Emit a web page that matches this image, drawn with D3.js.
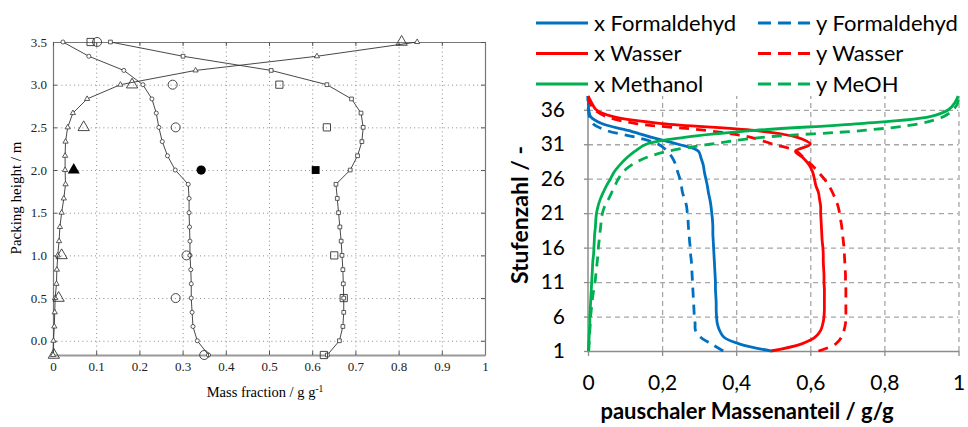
<!DOCTYPE html>
<html>
<head>
<meta charset="utf-8">
<script src="https://cdn.jsdelivr.net/npm/d3@7"></script>
<style>
body { margin: 0; background: #fff; }
</style>
</head>
<body>
<script>
// ---- left panel: packing column (simulated curves + experiments) ----
var heights = [3.5, 3.333, 3.167, 3.0, 2.833, 2.667, 2.5, 2.333, 2.167, 2.0, 1.833, 1.667, 1.5, 1.333, 1.167, 1.0, 0.833, 0.667, 0.5, 0.333, 0.167, 0, -0.167]
var simMethanol = [0.843, 0.611, 0.330, 0.156, 0.079, 0.046, 0.034, 0.029, 0.028, 0.028, 0.029, 0.025, 0.020, 0.016, 0.014, 0.011, 0.009, 0.008, 0.005, 0.004, 0.003, 0.001, 0.0]
var simFormaldehyde = [0.023, 0.083, 0.164, 0.208, 0.229, 0.239, 0.245, 0.253, 0.265, 0.283, 0.313, 0.315, 0.315, 0.316, 0.317, 0.317, 0.319, 0.320, 0.320, 0.322, 0.324, 0.334, 0.360]
var simWater = [0.133, 0.301, 0.505, 0.634, 0.691, 0.713, 0.718, 0.715, 0.705, 0.688, 0.655, 0.658, 0.661, 0.664, 0.667, 0.669, 0.671, 0.672, 0.673, 0.673, 0.671, 0.663, 0.635]

var expHeights = [3.5, 3.0, 2.5, 1.0, 0.5, -0.167]
var expMethanol = [0.807, 0.183, 0.071, 0.020, 0.013, 0.002]
var expFormaldehyde = [0.102, 0.277, 0.284, 0.309, 0.284, 0.350]
var expWater = [0.087, 0.524, 0.634, 0.651, 0.673, 0.627]

var fillHeight = 2.0
var fillMethanol = 0.048, fillFormaldehyde = 0.343, fillWater = 0.608

var xTicksL = [0, 0.1, 0.2, 0.3, 0.4, 0.5, 0.6, 0.7, 0.8, 0.9, 1]
var yTicksL = [0, 0.5, 1, 1.5, 2, 2.5, 3, 3.5]

// ---- right panel: stage model ----
var stages = [1, 2, 3, 4, 5, 6, 7, 8, 9, 10, 11, 12, 13, 14, 15, 16, 17, 18, 19, 20, 21, 22, 23, 24, 25, 26, 27, 28, 29, 30, 31, 32, 33, 34, 35, 36, 37, 38]
var xFormaldehyd = [0.494, 0.41, 0.367, 0.355, 0.349, 0.347, 0.346, 0.346, 0.345, 0.344, 0.344, 0.343, 0.342, 0.341, 0.340, 0.339, 0.338, 0.337, 0.337, 0.336, 0.334, 0.332, 0.329, 0.325, 0.322, 0.318, 0.314, 0.311, 0.305, 0.298, 0.244, 0.172, 0.108, 0.037, 0.007, 0.002, 0.001, 0.0]
var yFormaldehyd = [0.365, 0.334, 0.304, 0.290, 0.289, 0.287, 0.286, 0.285, 0.284, 0.283, 0.282, 0.281, 0.280, 0.279, 0.277, 0.276, 0.274, 0.273, 0.271, 0.270, 0.268, 0.266, 0.261, 0.255, 0.252, 0.248, 0.242, 0.237, 0.228, 0.214, 0.190, 0.130, 0.050, 0.013, 0.004, 0.001, 0.0, 0.0]
var xWasser = [0.494, 0.575, 0.613, 0.628, 0.634, 0.637, 0.638, 0.638, 0.638, 0.638, 0.637, 0.637, 0.636, 0.635, 0.635, 0.634, 0.632, 0.631, 0.630, 0.629, 0.628, 0.628, 0.625, 0.622, 0.615, 0.611, 0.606, 0.597, 0.581, 0.560, 0.600, 0.565, 0.450, 0.200, 0.068, 0.022, 0.010, 0.0]
var yWasser = [0.622, 0.668, 0.684, 0.691, 0.695, 0.696, 0.696, 0.696, 0.696, 0.696, 0.695, 0.695, 0.694, 0.693, 0.692, 0.691, 0.689, 0.687, 0.685, 0.682, 0.679, 0.675, 0.668, 0.660, 0.650, 0.637, 0.621, 0.604, 0.583, 0.563, 0.500, 0.440, 0.320, 0.130, 0.050, 0.018, 0.005, 0.0]
var xMethanol = [0.001, 0.002, 0.003, 0.004, 0.005, 0.005, 0.006, 0.007, 0.008, 0.009, 0.010, 0.011, 0.012, 0.013, 0.015, 0.016, 0.017, 0.018, 0.020, 0.021, 0.023, 0.027, 0.033, 0.041, 0.050, 0.061, 0.071, 0.086, 0.104, 0.127, 0.157, 0.260, 0.450, 0.734, 0.923, 0.973, 0.990, 0.999]
var yMeOH = [0.002, 0.003, 0.004, 0.005, 0.006, 0.007, 0.009, 0.011, 0.013, 0.016, 0.019, 0.021, 0.023, 0.025, 0.027, 0.028, 0.030, 0.032, 0.034, 0.036, 0.039, 0.045, 0.055, 0.064, 0.073, 0.082, 0.095, 0.118, 0.154, 0.217, 0.329, 0.470, 0.743, 0.896, 0.959, 0.986, 0.998, 1.0]

var xTicksR = [0, 0.2, 0.4, 0.6, 0.8, 1]
var xTickLabelsR = ["0", "0,2", "0,4", "0,6", "0,8", "1"]
var yTicksR = [1, 6, 11, 16, 21, 26, 31, 36]

var seriesR = [
  { name: "x Formaldehyd", values: xFormaldehyd, color: "#0070C0", dash: null },
  { name: "y Formaldehyd", values: yFormaldehyd, color: "#0070C0", dash: "10,7" },
  { name: "x Wasser", values: xWasser, color: "#FF0000", dash: null },
  { name: "y Wasser", values: yWasser, color: "#FF0000", dash: "10,7" },
  { name: "x Methanol", values: xMethanol, color: "#00B050", dash: null },
  { name: "y MeOH", values: yMeOH, color: "#00B050", dash: "10,7" }
]

var svg = d3.select("body").append("svg")
    .attr("width", 968)
    .attr("height", 427)

// ================= left panel =================
var xL = d3.scaleLinear().domain([0, 1]).range([53, 485])
var yL = d3.scaleLinear().domain([-0.167, 3.5]).range([355, 42])

var left = svg.append("g")
    .style("font-family", "'Liberation Serif', 'Times New Roman', serif")

// dotted grid
left.append("g")
    .attr("transform", "translate(0,355)")
    .call(d3.axisBottom(xL).tickValues(xTicksL.slice(1, -1)).tickSize(-313).tickFormat(""))
    .call(function(g) { g.select(".domain").remove() })
    .selectAll("line").attr("stroke", "#8a8a8a").attr("stroke-dasharray", "1,3.2")

left.append("g")
    .attr("transform", "translate(53,0)")
    .call(d3.axisLeft(yL).tickValues(yTicksL.slice(0, -1)).tickSize(-432).tickFormat(""))
    .call(function(g) { g.select(".domain").remove() })
    .selectAll("line").attr("stroke", "#8a8a8a").attr("stroke-dasharray", "1,3.2")

// axes with inward ticks
var axB = left.append("g")
    .attr("transform", "translate(0,355)")
    .call(d3.axisBottom(xL).tickValues(xTicksL).tickSizeInner(-4).tickSizeOuter(0).tickPadding(7)
      .tickFormat(function(d) { return d3.format("")(d) }))
var axLft = left.append("g")
    .attr("transform", "translate(53,0)")
    .call(d3.axisLeft(yL).tickValues(yTicksL).tickSizeInner(-4).tickSizeOuter(0).tickPadding(6))
var axT = left.append("g")
    .attr("transform", "translate(0,42)")
    .call(d3.axisTop(xL).tickValues(xTicksL).tickSizeInner(-4).tickSizeOuter(0).tickFormat(""))
var axR = left.append("g")
    .attr("transform", "translate(485,0)")
    .call(d3.axisRight(yL).tickValues(yTicksL).tickSizeInner(-4).tickSizeOuter(0).tickFormat(""))

;[axB, axLft, axT, axR].forEach(function(a) {
  a.select(".domain").attr("stroke", "#777").attr("stroke-width", 1.2)
  a.selectAll(".tick line").attr("stroke", "#555")
  a.selectAll("text").style("font-family", "'Liberation Serif', serif").style("font-size", "13px").attr("fill", "#222")
})
axB.select(".domain").attr("stroke-width", 2).attr("stroke", "#999")

// simulated curves
var lineL = d3.line()
    .x(function(d) { return xL(d.x) })
    .y(function(d) { return yL(d.h) })

function zipL(hs, xs) { return hs.map(function(h, i) { return { h: h, x: xs[i] } }) }

var simSets = [
  { data: zipL(heights, simMethanol), sym: d3.symbolTriangle, size: 12 },
  { data: zipL(heights, simFormaldehyde), sym: d3.symbolCircle, size: 13 },
  { data: zipL(heights, simWater), sym: d3.symbolSquare, size: 14 }
]

simSets.forEach(function(s) {
  left.append("path")
      .datum(s.data)
      .attr("d", lineL)
      .attr("fill", "none")
      .attr("stroke", "#333")
      .attr("stroke-width", 0.9)
  left.selectAll(null)
      .data(s.data)
      .enter().append("path")
      .attr("d", d3.symbol().type(s.sym).size(s.size))
      .attr("transform", function(d) { return "translate(" + xL(d.x) + "," + yL(d.h) + ")" })
      .attr("fill", "#fff")
      .attr("stroke", "#333")
      .attr("stroke-width", 0.8)
})

// experimental points
var expSets = [
  { data: zipL(expHeights, expMethanol), sym: d3.symbolTriangle, size: 55 },
  { data: zipL(expHeights, expFormaldehyde), sym: d3.symbolCircle, size: 64 },
  { data: zipL(expHeights, expWater), sym: d3.symbolSquare, size: 52 }
]
expSets.forEach(function(s) {
  left.selectAll(null)
      .data(s.data)
      .enter().append("path")
      .attr("d", d3.symbol().type(s.sym).size(s.size))
      .attr("transform", function(d) { return "translate(" + xL(d.x) + "," + yL(d.h) + ")" })
      .attr("fill", "none")
      .attr("stroke", "#333")
      .attr("stroke-width", 0.9)
})

var filled = [
  { x: fillMethanol, sym: d3.symbolTriangle, size: 62 },
  { x: fillFormaldehyde, sym: d3.symbolCircle, size: 68 },
  { x: fillWater, sym: d3.symbolSquare, size: 62 }
]
left.selectAll(".filled")
    .data(filled)
    .enter().append("path")
    .attr("class", "filled")
    .attr("d", function(d) { return d3.symbol().type(d.sym).size(d.size)() })
    .attr("transform", function(d) { return "translate(" + xL(d.x) + "," + yL(fillHeight) + ")" })
    .attr("fill", "#000")

// titles
left.append("text")
    .attr("transform", "translate(21,198) rotate(-90)")
    .style("text-anchor", "middle")
    .style("font-size", "15px")
    .text("Packing height / m")

var xt = left.append("text")
    .attr("x", 265)
    .attr("y", 397)
    .style("text-anchor", "middle")
    .style("font-size", "14.5px")
xt.append("tspan").text("Mass fraction / g g")
xt.append("tspan").attr("dy", -5).style("font-size", "9.5px").text("-1")

// ================= right panel =================
var xR = d3.scaleLinear().domain([0, 1]).range([588, 958.5])
var yR = d3.scaleLinear().domain([1, 38]).range([351, 96])

var right = svg.append("g")
    .style("font-family", "Lato, 'Open Sans', sans-serif")

// dashed grid
right.append("g")
    .attr("transform", "translate(0,351)")
    .call(d3.axisBottom(xR).tickValues(xTicksR.slice(1)).tickSize(-255).tickFormat(""))
    .call(function(g) { g.select(".domain").remove() })
    .selectAll("line").attr("stroke", "#a6a6a6").attr("stroke-width", 1.3).attr("stroke-dasharray", "5,4")

right.append("g")
    .attr("transform", "translate(588,0)")
    .call(d3.axisLeft(yR).tickValues(yTicksR.slice(1)).tickSize(-370.5).tickFormat(""))
    .call(function(g) { g.select(".domain").remove() })
    .selectAll("line").attr("stroke", "#a6a6a6").attr("stroke-width", 1.3).attr("stroke-dasharray", "5,4")

var rB = right.append("g")
    .attr("transform", "translate(0,351)")
    .call(d3.axisBottom(xR).tickValues(xTicksR).tickSizeInner(5).tickSizeOuter(0).tickPadding(19)
      .tickFormat(function(d, i) { return xTickLabelsR[i] }))
var rL = right.append("g")
    .attr("transform", "translate(588,0)")
    .call(d3.axisLeft(yR).tickValues(yTicksR).tickSizeInner(4).tickSizeOuter(0).tickPadding(19))
rL.select(".domain").attr("d", "M0," + yR(38) + "V" + yR(1))

;[rB, rL].forEach(function(a) {
  a.select(".domain").attr("stroke", "#8c8c8c").attr("stroke-width", 1.5)
  a.selectAll(".tick line").attr("stroke", "#8c8c8c").attr("stroke-width", 1.3)
  a.selectAll("text").style("font-family", "Lato, 'Open Sans', sans-serif").style("font-size", "21px").attr("fill", "#000")
})

var lineR = d3.line()
    .x(function(d) { return xR(d.v) })
    .y(function(d) { return yR(d.s) })
    .curve(d3.curveCatmullRom.alpha(0.5))

seriesR.forEach(function(s) {
  right.append("path")
      .datum(stages.map(function(st, i) { return { s: st, v: s.values[i] } }))
      .attr("d", lineR)
      .attr("fill", "none")
      .attr("stroke", s.color)
      .attr("stroke-width", 2.8)
      .attr("stroke-dasharray", s.dash)
})

// legend
var legend = right.selectAll(".legend")
    .data(seriesR)
    .enter().append("g")
    .attr("class", "legend")
    .attr("transform", function(d, i) {
      return "translate(" + (i % 2 ? 758 : 536) + "," + [23, 53.5, 84][Math.floor(i / 2)] + ")"
    })

legend.append("line")
    .attr("x1", 0).attr("x2", 52)
    .attr("stroke", function(d) { return d.color })
    .attr("stroke-width", 3)
    .attr("stroke-dasharray", function(d) { return d.dash ? "13,7" : null })

legend.append("text")
    .attr("x", 58)
    .attr("dy", "0.35em")
    .style("font-size", "22px")
    .text(function(d) { return d.name })

right.append("text")
    .attr("x", 747)
    .attr("y", 419)
    .style("text-anchor", "middle")
    .style("font-size", "22px")
    .style("font-weight", "bold")
    .text("pauschaler Massenanteil / g/g")

right.append("text")
    .attr("transform", "translate(528,215) rotate(-90)")
    .style("text-anchor", "middle")
    .style("font-size", "23px")
    .style("font-weight", "bold")
    .text("Stufenzahl / -")
</script>
</body>
</html>
